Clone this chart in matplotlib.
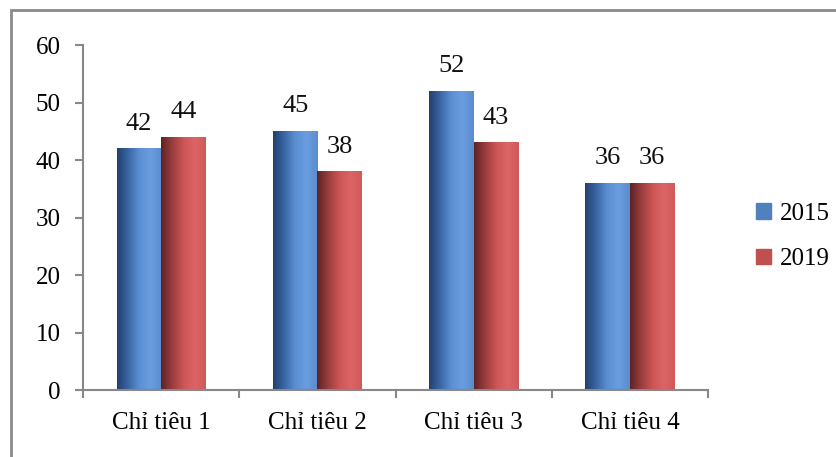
import numpy as np
import matplotlib
matplotlib.use("Agg")
import matplotlib.pyplot as plt
from matplotlib.patches import Rectangle
from matplotlib.colors import LinearSegmentedColormap

categories = ["Chỉ tiêu 1", "Chỉ tiêu 2", "Chỉ tiêu 3", "Chỉ tiêu 4"]
years = ["2015", "2019"]
values_2015 = [42, 45, 52, 36]
values_2019 = [44, 38, 43, 36]

plt.rcParams["font.family"] = ["Liberation Serif", "DejaVu Serif"]

fig = plt.figure(figsize=(8.36, 4.57), dpi=100)
ax = fig.add_axes([0.0993, 0.1466, 0.7477, 0.7549])

# cylinder-like shading, dark on the left edge, bright near the right
blue_cmap = LinearSegmentedColormap.from_list(
    "b", ["#22406e", "#3a66a4", "#5b8fd3", "#6a9de0", "#5b8ccc"])
red_cmap = LinearSegmentedColormap.from_list(
    "r", ["#5e2224", "#9a3d3e", "#cc5555", "#dc6464", "#cf5a5a"])
grad = np.linspace(0, 1, 256).reshape(1, -1)

x = np.arange(len(categories))
width = 0.285
series = [(values_2015, "#4f81bd", blue_cmap, -width / 2),
          (values_2019, "#c0504d", red_cmap, width / 2)]
handles = []
for (vals, color, cmap, off), label in zip(series, years):
    bars = ax.bar(x + off, vals, width, color="none", edgecolor="none", zorder=2)
    for b, v in zip(bars, vals):
        x0, y0 = b.get_x(), b.get_y()
        ax.imshow(grad, cmap=cmap, aspect="auto", zorder=2,
                  extent=(x0, x0 + b.get_width(), y0, y0 + b.get_height()))
        ax.annotate(f"{v}", (x0 + b.get_width() / 2, v), xytext=(0, 10),
                    textcoords="offset points", ha="center", va="bottom",
                    fontsize=19, color="#111111")
    handles.append(Rectangle((0, 0), 1, 1, color=color))

ax.set_xlim(-0.5, len(categories) - 0.5)
ax.set_ylim(0, 60)
ax.set_yticks(range(0, 61, 10))
ax.set_xticks(x)
ax.set_xticklabels(categories, fontsize=18)
ax.set_xticks(np.arange(-0.5, len(categories)), minor=True)
ax.tick_params(axis="x", which="major", length=0, pad=16)
ax.tick_params(axis="x", which="minor", length=6, width=1.5, color="#888888", direction="out")
ax.tick_params(axis="y", length=6, width=1.5, color="#888888", labelsize=18, pad=10)
for side in ("top", "right"):
    ax.spines[side].set_visible(False)
for side in ("left", "bottom"):
    ax.spines[side].set_color("#888888")
    ax.spines[side].set_linewidth(1.5)

fig.legend(handles, years, loc="center left", bbox_to_anchor=(0.9045, 0.4825),
           frameon=False, fontsize=18, handlelength=0.6, handleheight=0.6,
           handletextpad=0.35, labelspacing=0.95, borderpad=0, borderaxespad=0)

# outer chart border (cropped on the right and bottom)
fig.add_artist(Rectangle((11 / 836, -0.05), 1.1, 1 - 10 / 457 + 0.05,
                         transform=fig.transFigure, fill=False,
                         edgecolor="#8a8a8a", linewidth=2))

fig.savefig("out.png", dpi=100)
